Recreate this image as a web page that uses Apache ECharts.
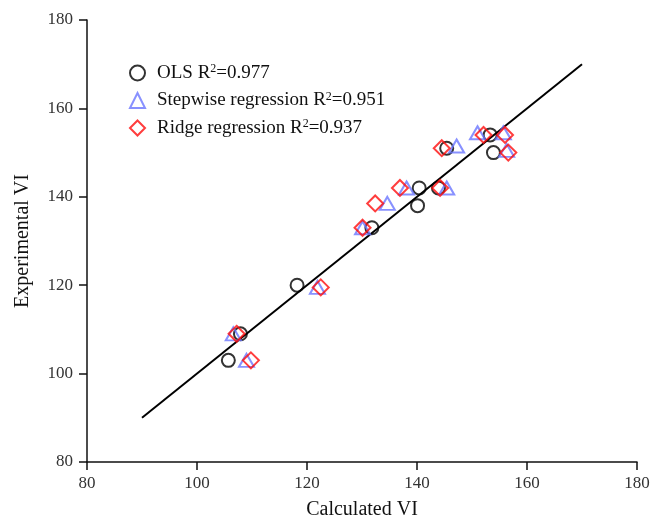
<!DOCTYPE html>
<html>
<head>
<meta charset="utf-8">
<title>Calculated vs Experimental VI</title>
<script src="https://cdn.jsdelivr.net/npm/echarts@6/dist/echarts.min.js"></script>
<style>
  html, body { margin: 0; padding: 0; background: #fff; }
  #chart { width: 654px; height: 526px; }
</style>
</head>
<body>
<div id="chart"></div>
<script>
// Model names and their R² values
const modelNames = ['OLS', 'Stepwise regression', 'Ridge regression'];
const modelR2 = ['0.977', '0.951', '0.937'];

// Calculated VI (x) and experimental VI (y) for each model
const olsCalc = [105.7, 107.9, 118.2, 131.8, 140.1, 140.4, 143.9, 145.4, 153.3, 153.9];
const olsExp  = [103,   109,   120,   133,   138,   142,   142,   151,   154,   150];

const stepCalc = [106.6, 109.0, 121.9, 130.1, 134.6, 138.1, 145.4, 147.2, 151.0, 155.7, 156.3];
const stepExp  = [109,   103,   119.5, 133,   138.5, 142,   142,   151.5, 154.5, 154.5, 150.5];

const ridgeCalc = [107.2, 109.8, 122.5, 130.1, 132.4, 136.9, 144.2, 144.5, 152.1, 156.0, 156.6];
const ridgeExp  = [109,   103,   119.5, 133,   138.5, 142,   142,   151,   154,   154,   150];

// 1:1 reference line
const refLine = [[90, 90], [170, 170]];

// Axis ranges
const axisMin = 80, axisMax = 180, axisStep = 20;

const pairs = (xs, ys) => xs.map((x, i) => [x, ys[i]]);

const serif = 'Liberation Serif, Times New Roman, serif';
const inkColor = '#111';

const chart = echarts.init(document.getElementById('chart'), null, { renderer: 'canvas' });

const r2ByName = {};
modelNames.forEach((n, i) => { r2ByName[n] = modelR2[i]; });

const markerStyle = (color) => ({
  color: 'rgba(0,0,0,0)',
  borderColor: color,
  borderWidth: 2
});

chart.setOption({
  backgroundColor: '#fff',
  animation: false,
  grid: { left: 87, right: 17, top: 20, bottom: 64 },
  legend: {
    data: modelNames,
    orient: 'vertical',
    left: 124,
    top: 58,
    itemWidth: 15,
    itemHeight: 15,
    itemGap: 8,
    formatter: (name) => name + ' R{sup|2}=' + r2ByName[name],
    textStyle: {
      fontFamily: serif,
      fontSize: 19,
      color: inkColor,
      padding: [0, 0, 0, 7],
      rich: {
        sup: {
          fontFamily: serif,
          fontSize: 12,
          color: inkColor,
          verticalAlign: 'top',
          padding: [0, 0, 8, 0]
        }
      }
    }
  },
  xAxis: {
    type: 'value',
    min: axisMin,
    max: axisMax,
    interval: axisStep,
    name: 'Calculated VI',
    nameLocation: 'middle',
    nameGap: 38,
    nameTextStyle: { fontFamily: serif, fontSize: 20, color: inkColor },
    axisLine: { lineStyle: { color: inkColor, width: 1.5 } },
    axisTick: { show: true, length: 8, lineStyle: { color: inkColor, width: 1.5 } },
    axisLabel: { fontFamily: serif, fontSize: 17, color: '#333', margin: 13 },
    splitLine: { show: false }
  },
  yAxis: {
    type: 'value',
    min: axisMin,
    max: axisMax,
    interval: axisStep,
    name: 'Experimental VI',
    nameLocation: 'middle',
    nameGap: 54,
    nameRotate: 90,
    nameTextStyle: { fontFamily: serif, fontSize: 20, color: inkColor },
    axisLine: { show: true, lineStyle: { color: inkColor, width: 1.5 } },
    axisTick: { show: true, length: 8, lineStyle: { color: inkColor, width: 1.5 } },
    axisLabel: { fontFamily: serif, fontSize: 17, color: '#333', margin: 14 },
    splitLine: { show: false }
  },
  series: [
    {
      name: modelNames[0],
      type: 'scatter',
      symbol: 'circle',
      symbolSize: 13,
      itemStyle: markerStyle('#000000'),
      data: pairs(olsCalc, olsExp),
      z: 3
    },
    {
      name: modelNames[1],
      type: 'scatter',
      symbol: 'triangle',
      symbolSize: [15, 13],
      itemStyle: markerStyle('#6a76ff'),
      data: pairs(stepCalc, stepExp),
      z: 4
    },
    {
      name: modelNames[2],
      type: 'scatter',
      symbol: 'diamond',
      symbolSize: [16, 16],
      itemStyle: markerStyle('#ff0d0d'),
      data: pairs(ridgeCalc, ridgeExp),
      z: 5
    },
    {
      name: 'reference',
      type: 'line',
      data: refLine,
      symbol: 'none',
      lineStyle: { color: '#000', width: 2 },
      silent: true,
      z: 2
    }
  ]
});
</script>
</body>
</html>
